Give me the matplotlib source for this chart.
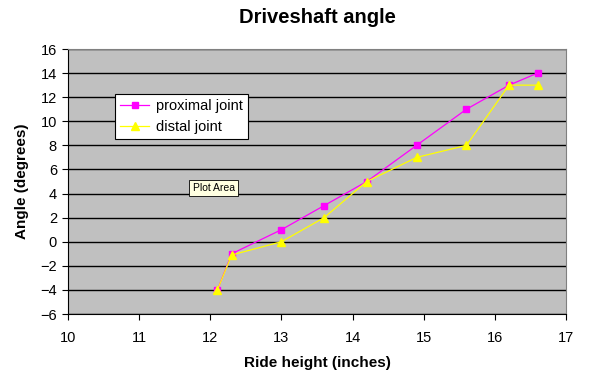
import matplotlib
matplotlib.use("Agg")
import matplotlib.pyplot as plt

plt.rcParams['font.family'] = ['Liberation Sans', 'DejaVu Sans']

# Data
ride_height = [12.1, 12.3, 13.0, 13.6, 14.2, 14.9, 15.6, 16.2, 16.6]
proximal = [-4, -1, 1, 3, 5, 8, 11, 13, 14]
distal = [-4, -1.1, 0, 2, 5, 7, 8, 13, 13]

fig = plt.figure(figsize=(5.93, 3.79), dpi=100)
ax = fig.add_axes([0.1147, 0.1715, 0.8398, 0.6992])
ax.set_facecolor('#C0C0C0')

ax.plot(ride_height, proximal, color='#FF00FF', lw=0.9, marker='s', ms=5,
        label='proximal joint')
ax.plot(ride_height, distal, color='#FFFF00', lw=0.9, marker='^', ms=6,
        label='distal joint')

ax.set_xlim(10, 17)
ax.set_ylim(-6, 16)
ax.set_xticks(range(10, 18))
ax.set_yticks(range(-6, 17, 2))
ax.yaxis.grid(True, color='black', lw=1)
ax.set_axisbelow(True)
ax.tick_params(direction='out', length=4, color='black', labelsize=10.5,
               pad=8)
ax.tick_params(axis='y', pad=4)

for side in ['top', 'right']:
    ax.spines[side].set_color('#808080')
for side in ['left', 'bottom']:
    ax.spines[side].set_color('black')

ax.set_title('Driveshaft angle', fontsize=14.5, fontweight='bold', pad=19)
ax.set_xlabel('Ride height (inches)', fontsize=11, fontweight='bold',
              labelpad=8)
ax.set_ylabel('Angle (degrees)', fontsize=11, fontweight='bold', labelpad=8)

leg = ax.legend(loc='upper left', bbox_to_anchor=(0.094, 0.83), fontsize=10.5,
                frameon=True, fancybox=False, edgecolor='black', framealpha=1,
                borderpad=0.35, handlelength=2.0, handletextpad=0.5,
                labelspacing=0.45, borderaxespad=0)
leg.get_frame().set_linewidth(0.8)

ax.text(0.25, 0.475, 'Plot Area', transform=ax.transAxes, fontsize=7.5,
        va='center', ha='left',
        bbox=dict(boxstyle='square,pad=0.3', fc='#FFFFE1', ec='black',
                  lw=0.6))

fig.savefig('out.png', dpi=100)
